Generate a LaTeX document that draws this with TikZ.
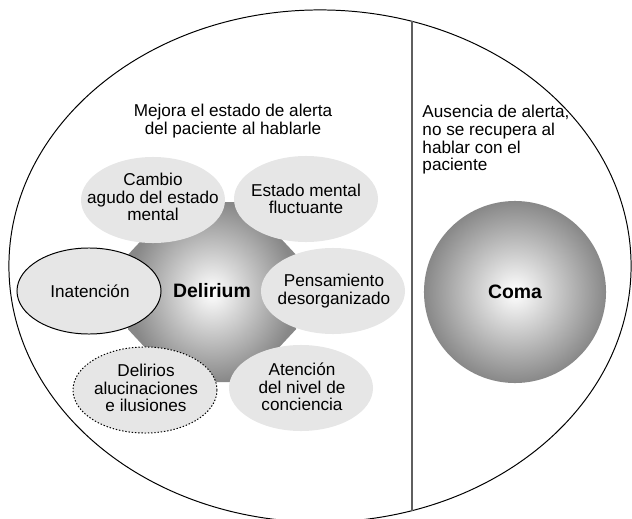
\documentclass[tikz,border=0pt]{standalone}
\usepackage{fontspec}
\setmainfont{Liberation Sans}
\usetikzlibrary{shapes.geometric}
\definecolor{bubblefill}{RGB}{230,230,230}
\definecolor{ringgray}{RGB}{136,136,136}
\definecolor{divgray}{RGB}{95,95,95}

\begin{document}
\begin{tikzpicture}[
  x=0.025cm, y=-0.025cm,
  font=\fontsize{12.2}{12.5}\selectfont,
  line width=0.7pt,
  bubble/.style={ellipse, inner sep=0pt, minimum width=3.6cm, minimum height=2.15cm, fill=bubblefill},
  caption/.style={align=center, inner sep=0pt},
  core/.style={shading=radial, inner color=white, outer color=ringgray},
  bigtext/.style={inner sep=0pt, font=\fontsize{13.8}{16}\selectfont\bfseries}
]
\useasboundingbox (0,0) rectangle (632,519);

% outer field and divider
\draw (320,266) ellipse [x radius=7.775cm, y radius=6.4cm];
\coordinate (divtop) at (412,21.4);
\coordinate (divbot) at (412,510.6);
\draw[divgray, line width=0.9pt] (divtop) -- (divbot);

\node[caption] (mejora) at (233,121) {Mejora el estado de alerta\\del paciente al hablarle};
\node[caption, align=left, anchor=north west] (ausencia) at (422,105) {Ausencia de alerta,\\no se recupera al\\hablar con el\\paciente};

% delirium core
\shade[core] (177.2,202) -- (246.8,202) -- (296,254.7) -- (296,329.3) -- (246.8,382)
  -- (177.2,382) -- (128,329.3) -- (128,254.7) -- cycle;

\node[bubble] (cambio) at (153,200) {};
\node[bubble] (estado) at (306,199) {};
\node[bubble, draw=black] (inatencion) at (89,291) {};
\node[bubble] (pensamiento) at (333,291) {};
\node[bubble, draw=black, dash pattern=on 1pt off 1.3pt] (delirios) at (145,390) {};
\node[bubble] (atencion) at (301,388) {};

\node[caption] (cambio-t) at (153,197) {Cambio\\agudo del estado\\mental};
\node[caption] (estado-t) at (306,199) {Estado mental\\fluctuante};
\node[caption] (inatencion-t) at (90,291) {Inatención};
\node[caption] (pensamiento-t) at (334,291) {Pensamiento\\desorganizado};
\node[caption] (delirios-t) at (146,388) {Delirios\\alucinaciones\\e ilusiones};
\node[caption] (atencion-t) at (302,387) {Atención\\del nivel de\\conciencia};
\node[bigtext] (delirium) at (212,291) {Delirium};

% coma
\node[circle, minimum size=4.55cm, inner sep=0pt, core] (coma-c) at (515,292) {};
\node[bigtext] (coma) at (515,292) {Coma};

\end{tikzpicture}
\end{document}
